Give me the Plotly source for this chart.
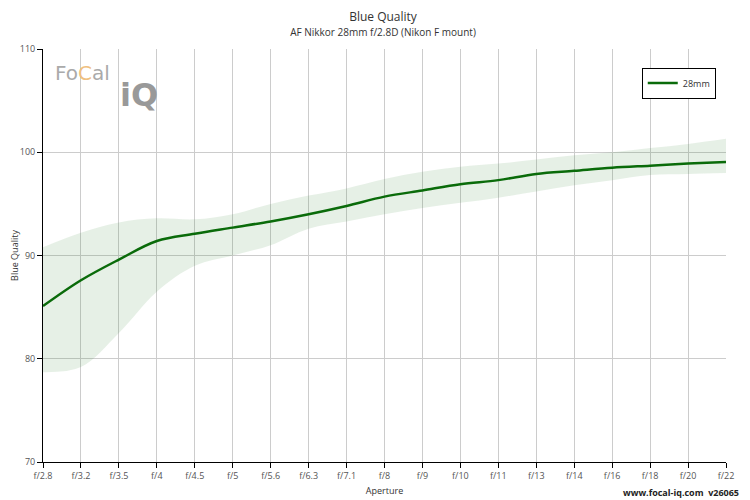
import plotly.graph_objects as go

apertures = ["f/2.8", "f/3.2", "f/3.5", "f/4", "f/4.5", "f/5", "f/5.6", "f/6.3", "f/7.1", "f/8",
             "f/9", "f/10", "f/11", "f/13", "f/14", "f/16", "f/18", "f/20", "f/22"]
quality = [85.1, 87.6, 89.6, 91.4, 92.1, 92.7, 93.3, 94.0, 94.8, 95.7,
           96.3, 96.9, 97.3, 97.9, 98.2, 98.5, 98.7, 98.9, 99.05]
upper = [90.8, 92.2, 93.2, 93.6, 93.5, 94.0, 95.0, 95.8, 96.5, 97.4,
         98.1, 98.6, 98.9, 99.3, 99.7, 100.0, 100.4, 100.8, 101.3]
lower = [78.7, 79.2, 82.5, 86.5, 89.0, 90.0, 91.0, 92.6, 93.3, 94.0,
         94.6, 95.1, 95.6, 96.2, 96.8, 97.3, 97.8, 97.9, 98.0]

x = list(range(len(apertures)))

fig = go.Figure()
# range band
fig.add_trace(go.Scatter(x=x, y=upper, mode='lines', line=dict(width=0, shape='spline'),
                         showlegend=False, hoverinfo='skip'))
fig.add_trace(go.Scatter(x=x, y=lower, mode='lines', line=dict(width=0, shape='spline'),
                         fill='tonexty', fillcolor='rgba(60,140,60,0.13)',
                         showlegend=False, hoverinfo='skip'))
fig.add_trace(go.Scatter(x=x, y=quality, mode='lines', name='28mm',
                         line=dict(color='#0a6b0a', width=2.5, shape='spline')))

axis_font = dict(family='Open Sans', size=9, color='#555')
fig.update_layout(
    width=750, height=500,
    margin=dict(l=35, r=32, t=41, b=46, autoexpand=False),
    paper_bgcolor='white', plot_bgcolor='white',
    font=dict(family='Open Sans', size=10, color='#333'),
    title=dict(text='Blue Quality<br><span style="font-size:10px">AF Nikkor 28mm f/2.8D (Nikon F mount)</span>',
               x=0.5, y=0.975, xanchor='center', font=dict(size=12, color='#333')),
    xaxis=dict(tickmode='array', tickvals=x, ticktext=apertures, range=[0, len(x) - 1],
               showgrid=True, gridcolor='#ccc', ticks='outside', ticklen=5, tickcolor='#000',
               showline=True, linecolor='#000', tickfont=axis_font, automargin=False,
               title=dict(text='Aperture', font=dict(size=9, color='#333'), standoff=6)),
    yaxis=dict(range=[70, 110], tickvals=[70, 80, 90, 100, 110], showgrid=True, gridcolor='#ccc',
               ticks='outside', ticklen=5, tickcolor='#000', showline=True, linecolor='#000',
               tickfont=axis_font, zeroline=False, automargin=False,
               title=dict(text='Blue Quality', font=dict(size=9, color='#333'), standoff=4)),
    legend=dict(x=0.985, y=0.955, xanchor='right', yanchor='top', bordercolor='#000',
                borderwidth=1, bgcolor='white', font=dict(size=9)),
)
fig.add_annotation(text='Fo<span style="color:#f0c080">C</span>al', xref='paper', yref='paper',
                   x=0.015, y=0.975, xanchor='left', yanchor='top', showarrow=False,
                   font=dict(family='DejaVu Sans', size=20, color='#aaa'))
fig.add_annotation(text='<b>iQ</b>', xref='paper', yref='paper', x=0.11, y=0.94,
                   xanchor='left', yanchor='top', showarrow=False,
                   font=dict(family='DejaVu Sans', size=32, color='#999'))
fig.add_annotation(text='<b>www.focal-iq.com  v26065</b>', xref='paper', yref='paper',
                   x=1.022, y=-0.053, xanchor='right', yanchor='top', showarrow=False,
                   font=dict(size=9, color='#222'))

fig.write_html("out.html")
